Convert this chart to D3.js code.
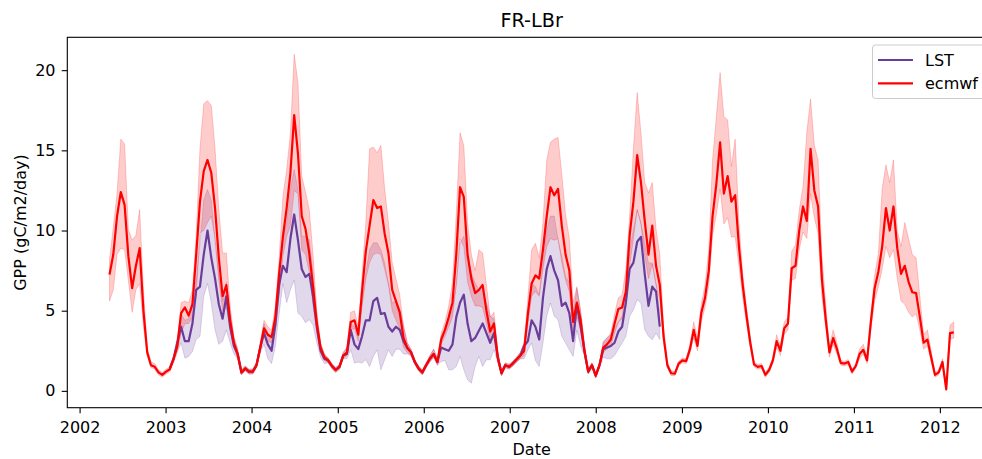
<!DOCTYPE html>
<html>
<head>
<meta charset="utf-8">
<script src="https://cdn.jsdelivr.net/npm/d3@7"></script>
<style>
  html, body { margin: 0; padding: 0; background: #fff; }
  svg { display: block; font-family: "DejaVu Sans", sans-serif; }
</style>
</head>
<body>
<svg id="chart" width="982" height="459"></svg>
<script>
// 16-day composites of gross primary production at FR-LBr
const STEP_DAYS = 16;
const ecmwfStart = new Date(Date.UTC(2002, 4, 8));
const lstStart = new Date(Date.UTC(2003, 0, 19));

const ecmwfMean = [
  7.25, 8.5, 10.9, 12.4, 11.6, 8.4, 6.4, 7.8, 8.9, 5.0,
  2.4, 1.6, 1.5, 1.15, 1.0, 1.2, 1.35, 2.0, 2.8, 4.85,
  5.2, 4.7, 5.4, 8.5, 11.8, 13.7, 14.4, 13.6, 11.4, 8.3,
  5.9, 6.6, 4.4, 3.0, 2.3, 1.15, 1.4, 1.2, 1.2, 1.6,
  2.7, 3.9, 3.5, 3.35, 4.6, 7.3, 9.6, 11.4, 13.6, 17.2,
  14.8, 10.9, 10.1, 8.6, 6.5, 4.2, 2.7, 2.1, 1.9, 1.55,
  1.3, 1.5, 2.2, 2.4, 4.3, 4.4, 3.5, 6.2, 8.7, 10.3,
  11.9, 11.4, 11.5, 9.8, 8.6, 6.3, 5.6, 4.9, 3.3, 2.7,
  2.4, 1.8, 1.4, 1.15, 1.6, 2.0, 2.3, 1.8, 3.2, 3.8,
  4.6, 5.5, 8.5, 12.7, 12.1, 8.5, 7.0, 6.1, 6.3, 6.6,
  5.0, 3.7, 4.2, 2.1, 1.1, 1.6, 1.5, 1.7, 1.95, 2.2,
  2.5, 4.8, 6.7, 7.2, 7.0, 8.8, 10.9, 12.7, 12.2, 12.6,
  10.3, 8.5, 7.5, 4.3, 5.5, 4.4, 2.5, 1.2, 1.6, 0.95,
  1.6, 2.7, 2.9, 3.2, 4.2, 5.1, 5.2, 6.2, 9.7, 11.8,
  14.7, 13.0, 10.6, 8.5, 10.3, 7.8, 6.6, 3.4, 1.6, 1.1,
  1.08, 1.7, 1.9, 1.85, 2.6, 3.8, 2.8, 4.85, 5.8, 7.5,
  10.9, 12.9, 15.5, 12.3, 13.4, 11.8, 12.2, 9.0, 6.6, 4.7,
  3.0, 1.65, 1.5, 1.55, 1.0, 1.3, 1.9, 3.1, 2.5, 3.9,
  4.2, 7.65, 7.8, 10.0, 11.5, 10.6, 15.1, 12.5, 11.5, 7.0,
  4.5, 2.4, 3.3, 2.6, 1.75, 1.7, 1.8, 1.2, 1.55, 2.3,
  2.56, 1.9, 4.3, 6.4, 7.45, 9.0, 11.4, 10.0, 11.5, 8.9,
  7.3, 7.8, 6.8, 6.15, 6.1, 4.6, 3.0, 3.2, 2.1, 1.0,
  1.15, 1.8, 0.1, 3.6, 3.65
];
const ecmwfLow = [
  5.6, 6.3, 8.5, 8.9, 8.8, 6.9, 4.9, 6.3, 6.7, 4.0,
  2.2, 1.45, 1.35, 1.0, 0.85, 1.05, 1.2, 1.8, 2.5, 3.6,
  4.2, 4.2, 4.6, 5.9, 9.85, 10.0, 10.5, 10.9, 9.5, 6.9,
  5.0, 5.2, 3.8, 2.7, 2.0, 1.0, 1.25, 1.05, 1.05, 1.45,
  2.4, 3.6, 3.1, 3.0, 4.1, 6.0, 8.4, 9.65, 10.3, 12.5,
  12.3, 8.8, 8.5, 7.4, 5.3, 3.6, 2.4, 1.9, 1.75, 1.4,
  1.15, 1.35, 2.0, 2.2, 3.8, 3.9, 3.1, 5.3, 7.0, 8.0,
  8.5, 8.6, 8.5, 7.6, 6.6, 5.0, 4.4, 3.9, 2.7, 2.4,
  2.2, 1.65, 1.25, 1.0, 1.45, 1.8, 2.1, 1.6, 2.9, 3.4,
  4.0, 4.6, 6.6, 9.5, 9.0, 6.8, 5.9, 5.3, 5.3, 5.2,
  4.2, 3.2, 3.6, 1.8, 0.95, 1.45, 1.35, 1.55, 1.8, 2.0,
  2.2, 4.2, 5.9, 6.2, 5.9, 7.6, 9.0, 9.5, 9.4, 9.5,
  8.0, 6.9, 6.2, 3.6, 4.6, 3.8, 2.2, 1.05, 1.45, 0.8,
  1.45, 2.4, 2.6, 2.8, 3.6, 4.3, 4.5, 5.2, 7.8, 9.5,
  11.3, 10.4, 8.4, 7.0, 7.9, 6.6, 5.6, 3.0, 1.45, 0.95,
  0.95, 1.55, 1.75, 1.7, 2.35, 3.3, 2.5, 4.3, 5.2, 6.6,
  9.7, 11.0, 12.6, 10.4, 10.8, 9.6, 9.6, 7.8, 5.8, 4.2,
  2.7, 1.5, 1.35, 1.4, 0.85, 1.15, 1.7, 2.7, 2.2, 3.5,
  3.8, 6.9, 7.0, 8.8, 9.9, 9.5, 12.3, 10.8, 9.8, 5.9,
  4.0, 2.1, 2.9, 2.3, 1.6, 1.55, 1.65, 1.05, 1.4, 2.0,
  2.3, 1.7, 3.8, 5.6, 6.5, 7.6, 9.0, 8.3, 8.8, 7.0,
  5.6, 5.4, 4.9, 4.6, 4.8, 3.8, 2.6, 2.8, 1.8, 0.85,
  1.0, 1.6, 0.0, 3.2, 3.3
];
const ecmwfHigh = [
  8.2, 10.2, 12.3, 15.7, 15.4, 10.1, 9.4, 9.7, 11.3, 6.3,
  2.7, 1.8, 1.7, 1.3, 1.15, 1.35, 1.5, 2.2, 3.2, 5.5,
  5.6, 5.5, 6.3, 9.7, 15.1, 17.9, 18.1, 17.8, 15.1, 11.3,
  8.6, 8.6, 5.3, 3.4, 2.6, 1.3, 1.55, 1.35, 1.35, 1.8,
  3.0, 4.4, 4.0, 3.8, 5.3, 8.2, 12.1, 13.8, 16.1, 21.0,
  19.2, 13.4, 12.4, 11.3, 8.5, 5.0, 3.0, 2.3, 2.05, 1.7,
  1.45, 1.65, 2.4, 2.7, 4.9, 5.0, 4.0, 7.2, 10.5, 15.1,
  15.2, 14.85, 15.3, 12.6, 10.5, 8.0, 7.0, 6.0, 4.0, 3.0,
  2.6, 1.95, 1.55, 1.3, 1.75, 2.2, 2.6, 2.0, 3.6, 4.3,
  5.3, 6.8, 11.0, 16.1, 15.3, 10.5, 8.5, 7.5, 8.8, 8.6,
  6.6, 4.6, 4.9, 2.5, 1.25, 1.75, 1.65, 1.85, 2.1, 2.4,
  3.0, 5.8, 8.8, 9.2, 8.3, 10.5, 14.4, 15.5, 15.7, 15.8,
  13.5, 11.0, 9.5, 5.5, 6.5, 5.0, 2.9, 1.35, 1.75, 1.1,
  1.75, 3.0, 3.3, 3.6, 4.8, 5.8, 6.0, 7.6, 10.9, 15.1,
  18.6, 16.1, 13.0, 12.35, 13.0, 10.1, 8.5, 4.0, 1.8, 1.25,
  1.2, 1.85, 2.05, 2.0, 2.9, 4.3, 3.3, 5.4, 6.6, 8.8,
  14.4, 17.1, 19.85, 17.1, 16.9, 14.0, 15.7, 10.5, 7.3, 5.2,
  3.4, 1.8, 1.65, 1.7, 1.15, 1.45, 2.1, 3.5, 2.8, 4.3,
  4.6, 8.7, 9.1, 11.3, 12.7, 16.1, 18.2, 15.3, 14.4, 8.5,
  5.5, 2.8, 3.8, 3.0, 1.9, 1.85, 1.95, 1.35, 1.7, 2.6,
  2.9, 2.1, 4.8, 7.2, 8.6, 12.6, 14.1, 13.0, 14.4, 10.0,
  9.0, 10.5, 9.5, 8.5, 8.3, 5.9, 3.5, 3.8, 2.5, 1.15,
  1.3, 2.0, 0.2, 4.1, 4.3
];

const lstMean = [
  1.4, 2.0, 3.0, 4.0,
  3.1, 3.1, 4.2, 6.3, 6.5, 8.5, 10.0, 8.3, 7.0, 5.4,
  4.5, 5.9, 4.0, 2.8, 2.3, 1.15, 1.4, 1.2, 1.2, 1.6,
  2.7, 3.6, 2.9, 2.5, 4.1, 6.6, 7.8, 7.4, 9.5, 11.0,
  9.4, 7.6, 7.1, 7.3, 5.9, 4.0, 2.5, 2.0, 1.9, 1.55,
  1.3, 1.5, 2.2, 2.3, 3.8, 2.9, 2.6, 3.4, 4.4, 4.4,
  5.6, 5.8, 4.8, 4.85, 4.0, 3.7, 4.0, 3.8, 3.1, 2.67,
  2.4, 1.8, 1.4, 1.15, 1.6, 2.0, 2.3, 1.8, 2.7, 2.6,
  2.5, 2.9, 4.6, 5.5, 6.0, 4.2, 3.1, 3.3, 3.75, 4.2,
  3.6, 3.0, 3.6, 2.1, 1.1, 1.6, 1.5, 1.7, 1.95, 2.2,
  2.8, 3.1, 4.4, 4.0, 3.2, 5.8, 7.6, 8.4, 7.5, 6.9,
  5.3, 5.5, 4.85, 3.1, 5.4, 4.0, 2.5, 1.2, 1.6, 0.95,
  1.6, 2.6, 2.7, 2.8, 3.0, 3.7, 4.0, 5.5, 7.6, 8.0,
  9.3, 9.6, 7.3, 5.3, 6.5, 6.2, 4.0
];
const lstLow = [
  1.25, 1.8, 2.4, 3.0,
  2.04, 2.15, 2.46, 3.2, 3.4, 5.9, 6.7, 5.5, 3.8, 2.9,
  3.1, 3.8, 3.0, 2.3, 2.0, 1.0, 1.25, 1.05, 1.05, 1.45,
  2.4, 2.9, 2.0, 1.7, 2.8, 4.8, 6.7, 5.5, 6.3, 6.9,
  4.85, 4.65, 4.25, 4.44, 4.1, 3.0, 2.1, 1.7, 1.75, 1.4,
  1.15, 1.35, 2.0, 2.0, 2.56, 1.73, 1.8, 1.73, 1.94, 1.52,
  2.15, 2.56, 1.31, 1.94, 2.56, 2.15, 2.6, 2.6, 2.3, 2.3,
  2.2, 1.65, 1.25, 1.0, 1.45, 1.8, 2.1, 1.6, 1.83, 1.9,
  1.31, 1.31, 1.52, 2.15, 1.31, 0.69, 0.48, 1.52, 2.15, 1.52,
  1.94, 1.94, 2.56, 1.8, 0.95, 1.45, 1.35, 1.55, 1.8, 2.0,
  2.0, 2.56, 2.98, 1.9, 1.52, 2.98, 4.65, 5.48, 4.65, 4.44,
  3.4, 2.98, 2.56, 2.15, 3.8, 2.8, 2.2, 1.05, 1.45, 0.8,
  1.45, 2.1, 2.0, 2.0, 2.2, 2.6, 2.98, 3.4, 4.65, 5.06,
  5.69, 5.48, 3.81, 3.4, 3.19, 3.6, 3.2
];
const lstHigh = [
  1.55, 2.2, 3.4, 4.8,
  4.4, 4.5, 5.6, 6.94, 9.23, 11.9, 12.56, 11.9, 9.4, 7.3,
  5.6, 6.8, 4.8, 3.3, 2.6, 1.3, 1.55, 1.35, 1.35, 1.75,
  3.0, 4.2, 3.6, 3.4, 4.6, 7.5, 9.65, 10.5, 12.56, 13.8,
  12.56, 9.65, 9.65, 9.44, 7.3, 4.6, 2.9, 2.3, 2.05, 1.7,
  1.45, 1.65, 2.4, 2.7, 4.2, 4.0, 3.6, 5.4, 7.35, 8.8,
  9.23, 9.23, 8.8, 7.98, 6.73, 5.48, 5.6, 5.1, 4.1, 3.0,
  2.6, 1.95, 1.55, 1.3, 1.75, 2.2, 2.6, 2.0, 3.4, 3.9,
  4.3, 5.06, 6.73, 9.23, 9.65, 8.6, 7.35, 6.73, 6.3, 6.3,
  5.48, 4.65, 4.5, 2.5, 1.25, 1.75, 1.65, 1.85, 2.1, 2.4,
  3.0, 4.9, 6.73, 6.5, 6.0, 8.0, 10.06, 10.9, 10.9, 9.44,
  8.4, 7.15, 6.73, 4.8, 6.4, 5.0, 2.9, 1.35, 1.75, 1.1,
  1.75, 3.1, 3.3, 3.5, 3.9, 4.3, 4.65, 6.3, 8.8, 10.06,
  11.3, 10.5, 9.2, 7.98, 7.98, 6.73, 5.0
];

const seriesNames = ["LST", "ecmwf"];
const seriesColors = { LST: "#6a3d9a", ecmwf: "#ff0000" };
const yTicks = [0, 5, 10, 15, 20];

function buildRows(start, mean, low, high) {
  return mean.map((v, i) => ({
    date: d3.utcDay.offset(start, STEP_DAYS * i),
    mean: v,
    low: low[i],
    high: high[i]
  }));
}
const ecmwfRows = buildRows(ecmwfStart, ecmwfMean, ecmwfLow, ecmwfHigh);
const lstRows = buildRows(lstStart, lstMean, lstLow, lstHigh);

const svg = d3.select("#chart");
const plot = { left: 67.3, right: 996, top: 37.3, bottom: 407.7 };

// axis limits with 5% padding around the data, as for an autoscaled plot
const tExtent = d3.extent(ecmwfRows, d => d.date);
const tPad = (tExtent[1] - tExtent[0]) * 0.05;
const x = d3.scaleUtc()
  .domain([new Date(+tExtent[0] - tPad), new Date(+tExtent[1] + tPad)])
  .range([plot.left, plot.right]);

const allRows = ecmwfRows.concat(lstRows);
const vMin = d3.min(allRows, d => Math.min(d.low, d.mean));
const vMax = d3.max(allRows, d => Math.max(d.high, d.mean));
const vPad = (vMax - vMin) * 0.05;
const y = d3.scaleLinear()
  .domain([vMin - vPad, vMax + vPad])
  .range([plot.bottom, plot.top]);

const clip = svg.append("defs").append("clipPath").attr("id", "plot-clip")
  .append("rect")
  .attr("x", plot.left).attr("y", plot.top)
  .attr("width", plot.right - plot.left).attr("height", plot.bottom - plot.top);

const band = d3.area().x(d => x(d.date)).y0(d => y(d.low)).y1(d => y(d.high));
const line = d3.line().x(d => x(d.date)).y(d => y(d.mean));

const g = svg.append("g").attr("clip-path", "url(#plot-clip)");

g.append("path").datum(lstRows)
  .attr("d", band)
  .attr("fill", seriesColors.LST).attr("fill-opacity", 0.2)
  .attr("stroke", seriesColors.LST).attr("stroke-opacity", 0.2).attr("stroke-width", 1);

g.append("path").datum(ecmwfRows)
  .attr("d", band)
  .attr("fill", seriesColors.ecmwf).attr("fill-opacity", 0.2)
  .attr("stroke", seriesColors.ecmwf).attr("stroke-opacity", 0.2).attr("stroke-width", 1);

g.append("path").datum(lstRows)
  .attr("d", line)
  .attr("fill", "none").attr("stroke", seriesColors.LST)
  .attr("stroke-width", 2.2).attr("stroke-linejoin", "round");

g.append("path").datum(ecmwfRows)
  .attr("d", line)
  .attr("fill", "none").attr("stroke", seriesColors.ecmwf)
  .attr("stroke-width", 2.2).attr("stroke-linejoin", "round");

// axes
const xAxis = d3.axisBottom(x)
  .ticks(d3.utcYear.every(1))
  .tickFormat(d3.utcFormat("%Y"))
  .tickSize(5.6).tickPadding(8.6);
const yAxis = d3.axisLeft(y)
  .tickValues(yTicks)
  .tickFormat(d3.format("d"))
  .tickSize(5.6).tickPadding(6.2);

const gx = svg.append("g")
  .attr("transform", `translate(0,${plot.bottom})`)
  .call(xAxis);
const gy = svg.append("g")
  .attr("transform", `translate(${plot.left},0)`)
  .call(yAxis);

[gx, gy].forEach(a => {
  a.select(".domain").remove();
  a.selectAll(".tick line").attr("stroke", "#000").attr("stroke-width", 1.1);
  a.selectAll(".tick text")
    .attr("fill", "#000")
    .style("font-family", "'DejaVu Sans', sans-serif")
    .style("font-size", "16px");
});

// frame
svg.append("rect")
  .attr("x", plot.left).attr("y", plot.top)
  .attr("width", plot.right - plot.left).attr("height", plot.bottom - plot.top)
  .attr("fill", "none").attr("stroke", "#000").attr("stroke-width", 1.1);

const cx = (plot.left + plot.right) / 2;
svg.append("text")
  .attr("x", cx).attr("y", 27)
  .attr("text-anchor", "middle")
  .style("font-size", "19.2px")
  .text("FR-LBr");

svg.append("text")
  .attr("x", cx).attr("y", 454.5)
  .attr("text-anchor", "middle")
  .style("font-size", "16px")
  .text("Date");

svg.append("text")
  .attr("transform", `translate(25.5,${(plot.top + plot.bottom) / 2}) rotate(-90)`)
  .attr("text-anchor", "middle")
  .style("font-size", "16px")
  .text("GPP (gC/m2/day)");

// legend
const legend = svg.append("g");
legend.append("rect")
  .attr("x", 872.5).attr("y", 45)
  .attr("width", 118).attr("height", 53.5)
  .attr("rx", 3)
  .attr("fill", "#fff").attr("fill-opacity", 0.8)
  .attr("stroke", "#cccccc").attr("stroke-width", 1);

seriesNames.forEach((name, i) => {
  const ly = 60 + i * 23.3;
  legend.append("line")
    .attr("x1", 878).attr("x2", 913)
    .attr("y1", ly).attr("y2", ly)
    .attr("stroke", seriesColors[name]).attr("stroke-width", 2.2);
  legend.append("text")
    .attr("x", 925).attr("y", ly + 5.7)
    .style("font-size", "16px")
    .text(name);
});
</script>
</body>
</html>
